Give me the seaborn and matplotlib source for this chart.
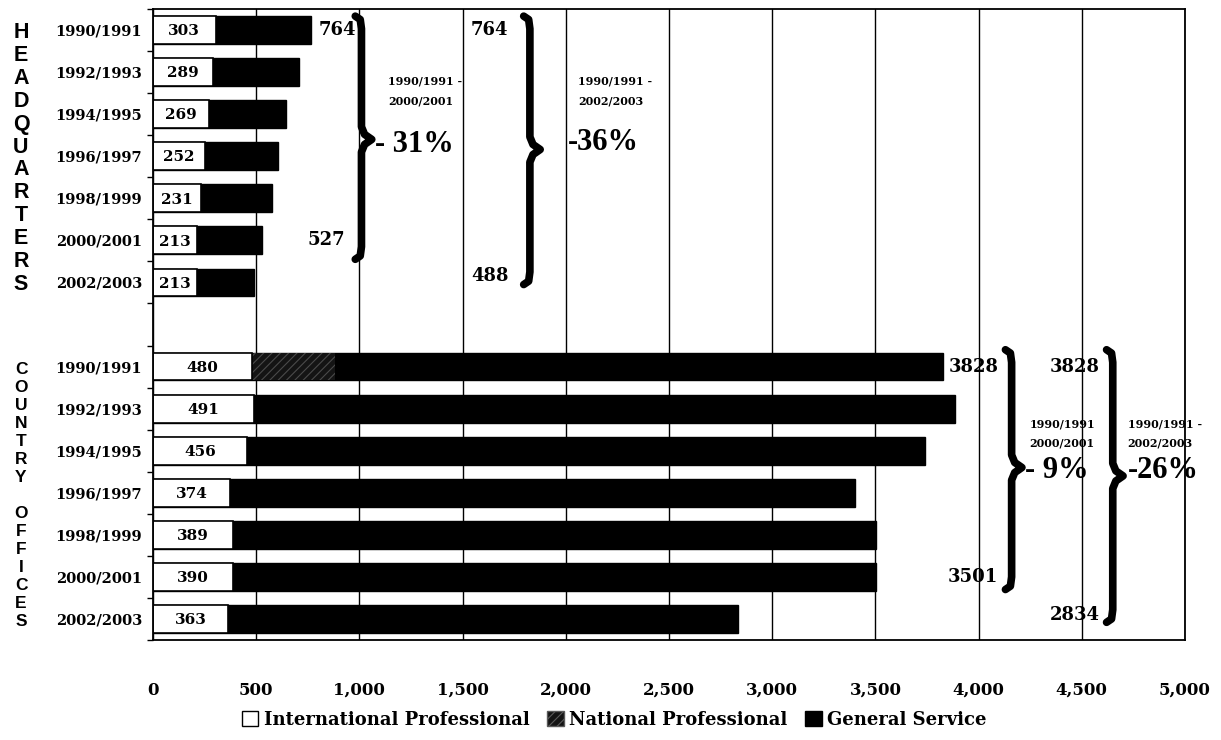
""" Staff by category: Headquarters vs Country Offices """

import numpy as np
import pandas as pd
import matplotlib
matplotlib.use("Agg")
import matplotlib.pyplot as plt
from matplotlib.patches import Patch
from matplotlib.ticker import FuncFormatter, MultipleLocator
import seaborn as sns

# Data
periods = ["1990/1991", "1992/1993", "1994/1995", "1996/1997", "1998/1999", "2000/2001", "2002/2003"]
hq_intl = [303, 289, 269, 252, 231, 213, 213]
hq_natl = [0, 0, 0, 0, 0, 0, 0]
hq_total = [764, 706, 642, 608, 578, 527, 488]
co_intl = [480, 491, 456, 374, 389, 390, 363]
co_natl = [400, 0, 0, 0, 0, 0, 0]
co_total = [3828, 3884, 3738, 3400, 3505, 3501, 2834]

legend_labels = ["International Professional", "National Professional", "General Service"]

# Build one table, HQ rows, a blank row, then country office rows
hq = pd.DataFrame({"period": periods, "intl": hq_intl, "natl": hq_natl, "total": hq_total})
hq["key"] = "HQ " + hq["period"]
co = pd.DataFrame({"period": periods, "intl": co_intl, "natl": co_natl, "total": co_total})
co["key"] = "CO " + co["period"]
df = pd.concat([hq, co], ignore_index=True)
df["intl_natl"] = df["intl"] + df["natl"]
order = list(hq["key"]) + [" "] + list(co["key"])
tick_labels = periods + [""] + periods

sns.set_style("white")
plt.rcParams["font.family"] = ["DejaVu Serif"]
plt.rcParams["text.color"] = "black"
plt.rcParams["xtick.color"] = "black"
plt.rcParams["ytick.color"] = "black"
plt.rcParams["axes.labelcolor"] = "black"
plt.rcParams["hatch.linewidth"] = 0.8

fig = plt.figure(figsize=(12.21, 7.40), dpi=100)
ax = fig.add_axes([153 / 1221, 1 - 640 / 740, (1185 - 153) / 1221, (640 - 9) / 740])

bw = 0.66
# General service = full bar, then national prof., then international prof. on top
sns.barplot(data=df, x="total", y="key", order=order, orient="h", color="black",
            saturation=1, width=bw, edgecolor="black", linewidth=1, ax=ax)
sns.barplot(data=df, x="intl_natl", y="key", order=order, orient="h", color="#141414",
            saturation=1, width=bw, hatch="////", edgecolor="#4a4a4a", linewidth=0, ax=ax)
sns.barplot(data=df, x="intl", y="key", order=order, orient="h", color="white",
            saturation=1, width=bw, edgecolor="black", linewidth=1.2, ax=ax)

ax.set_xlim(0, 5000)
ax.set_ylim(14.5, -0.5)
ax.set_xlabel("")
ax.set_ylabel("")
ax.xaxis.set_major_locator(MultipleLocator(500))
ax.xaxis.set_major_formatter(FuncFormatter(lambda v, p: f"{int(v):,}"))
ax.grid(axis="x", color="black", linewidth=1)
ax.set_axisbelow(True)
for s in ax.spines.values():
    s.set_color("black")
    s.set_linewidth(1.3)

ax.set_yticks(range(len(order)))
ax.set_yticklabels(tick_labels, fontsize=10.5, fontweight="bold")
ax.set_yticks(np.arange(-0.5, len(order), 1), minor=True)
ax.tick_params(axis="y", which="major", length=0, pad=8)
ax.tick_params(axis="y", which="minor", length=4, width=1, direction="out", color="black")
ax.tick_params(axis="x", length=6, width=1, direction="out", color="black", pad=24,
               labelsize=12)
for t in ax.get_xticklabels():
    t.set_fontweight("bold")
ax.tick_params(axis="y", left=True, which="minor")

# Values of international staff inside the white segments
for i, key in enumerate(order):
    row = df[df["key"] == key]
    if row.empty:
        continue
    v = row["intl"].iloc[0]
    ax.text(v / 2, i + 0.03, str(v), ha="center", va="center", fontsize=11,
            fontweight="bold", color="black")


def brace(x, y0, y1, ym, tip, hook, lw=5.5):
    xs = [x - hook, x - hook * 0.2, x, x, x + tip * 0.3, x + tip, x + tip * 0.3, x, x, x - hook * 0.2, x - hook]
    ys = [y0, y0 + 0.08, y0 + 0.3, ym - 0.3, ym - 0.12, ym, ym + 0.12, ym + 0.3, y1 - 0.3, y1 - 0.08, y1]
    ax.plot(xs, ys, color="black", lw=lw, solid_capstyle="round", solid_joinstyle="round",
            clip_on=False, zorder=5)


lbl = dict(fontsize=13, fontweight="bold", va="center")
small = dict(fontsize=8, fontweight="bold", va="center", linespacing=1.9)
pct = dict(fontsize=22, fontweight="bold", va="center", family="Liberation Serif")

# Headquarters: 1990/1991 - 2000/2001
brace(1010, -0.33, 5.45, 2.6, 50, 30)
ax.text(985, 0, str(hq_total[0]), ha="right", **lbl)
ax.text(930, 5, str(hq_total[5]), ha="right", **lbl)
ax.text(1140, 1.45, f"{periods[0]} -\n{periods[5]}", ha="left", **small)
ax.text(1075, 2.72, "- 31%", ha="left", **pct)

# Headquarters: 1990/1991 - 2002/2003
brace(1826, -0.33, 6.05, 2.84, 50, 30)
ax.text(1632, 0, str(hq_total[0]), ha="center", **lbl)
ax.text(1632, 5.85, str(hq_total[6]), ha="center", **lbl)
ax.text(2060, 1.45, f"{periods[0]} -\n{periods[6]}", ha="left", **small)
ax.text(2010, 2.67, "-36%", ha="left", **pct)

# Country offices: 1990/1991 - 2000/2001
brace(4160, 7.6, 13.3, 10.4, 50, 30)
ax.text(3975, 8, str(co_total[0]), ha="center", **lbl)
ax.text(3970, 13, str(co_total[5]), ha="center", **lbl)
ax.text(4247, 9.6, f"{periods[0]}\n{periods[5]}", ha="left", **small)
ax.text(4223, 10.47, "- 9%", ha="left", **pct)

# Country offices: 1990/1991 - 2002/2003
brace(4650, 7.6, 14.08, 10.6, 50, 30)
ax.text(4465, 8, str(co_total[0]), ha="center", **lbl)
ax.text(4465, 13.9, str(co_total[6]), ha="center", **lbl)
ax.text(4722, 9.6, f"{periods[0]} -\n{periods[6]}", ha="left", **small)
ax.text(4722, 10.47, "-26%", ha="left", **pct)


# Stacked group titles on the far left
def stacked(word, y_top, y_bot, size):
    n = len(word)
    for k, ch in enumerate(word):
        if ch == " ":
            continue
        y = y_top + (y_bot - y_top) * k / (n - 1)
        fig.text(21 / 1221, 1 - y / 740, ch, ha="center", va="center", fontsize=size,
                 fontweight="bold", family="Liberation Sans")


stacked("HEADQUARTERS", 33, 284, 15.5)
stacked("COUNTRY OFFICES", 370, 621, 12.5)

handles = [Patch(facecolor="white", edgecolor="black", linewidth=1),
           Patch(facecolor="#141414", edgecolor="#5a5a5a", hatch="////", linewidth=1),
           Patch(facecolor="black", edgecolor="black")]
fig.legend(handles, legend_labels, loc="center", bbox_to_anchor=(0.503, 1 - 720 / 740), ncol=3,
           frameon=False, prop={"family": "DejaVu Serif", "weight": "bold", "size": 13},
           handlelength=0.9, handleheight=0.9, handletextpad=0.3, columnspacing=1.0)

fig.savefig("out.png", dpi=100, facecolor="white")
